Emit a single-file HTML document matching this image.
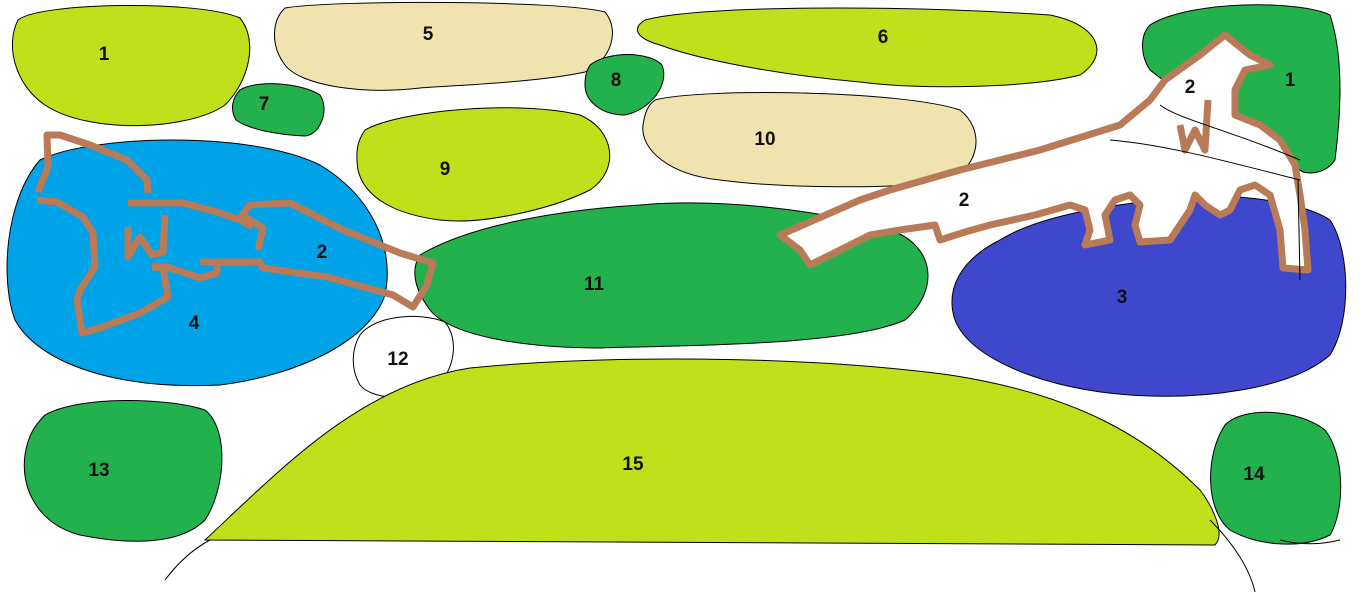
<!DOCTYPE html>
<html><head><style>html,body{margin:0;padding:0;background:#fff;width:1360px;height:592px;overflow:hidden}
text{font-family:"Liberation Sans",sans-serif;font-weight:bold;font-size:19px;fill:#111;text-anchor:middle}</style></head>
<body>
<svg width="1360" height="592" viewBox="0 0 1360 592" xmlns="http://www.w3.org/2000/svg">
<g stroke="#000" stroke-width="1">
<path d="M18,20 C40,2 200,0 240,18 C258,40 250,80 225,105 C190,130 90,135 45,105 C15,85 5,45 18,20Z" fill="#c0e01c"/>
<path d="M285,8 C330,0 560,0 605,12 C620,30 612,60 585,72 C540,82 460,85 420,88 C360,95 300,85 285,65 C270,45 272,20 285,8Z" fill="#efe4b0"/>
<path d="M645,20 C700,5 900,5 1050,15 C1100,25 1110,55 1080,75 C1030,88 920,90 860,82 C780,75 700,60 660,45 C635,38 632,28 645,20Z" fill="#c0e01c"/>
<path d="M1150,25 C1190,0 1300,0 1330,15 C1345,60 1340,120 1335,160 C1325,175 1305,175 1300,170 L1240,140 L1150,70 C1140,55 1140,35 1150,25Z" fill="#22b14c"/>
<path d="M240,90 C255,80 300,82 320,95 C330,110 320,135 305,136 C280,135 250,130 236,120 C230,110 232,98 240,90Z" fill="#22b14c"/>
<path d="M590,65 C610,50 650,52 662,65 C670,85 650,110 625,115 C600,115 585,100 585,85 C585,75 587,70 590,65Z" fill="#22b14c"/>
<path d="M365,130 C400,110 520,100 580,115 C615,130 620,170 590,190 C550,210 480,225 440,220 C400,215 365,200 358,170 C355,150 358,140 365,130Z" fill="#c0e01c"/>
<path d="M655,100 C700,88 900,90 960,110 C985,130 980,165 950,180 C900,190 780,188 720,180 C670,175 640,150 643,125 C645,112 648,105 655,100Z" fill="#efe4b0"/>
<path d="M40,160 C90,135 250,130 320,165 C370,195 395,245 385,295 C370,340 300,375 220,385 C120,390 40,365 15,320 C0,280 5,200 40,160Z" fill="#00a2e8"/>
<path d="M420,255 C470,225 560,210 640,205 C720,198 820,210 890,230 C935,245 940,290 905,320 C850,345 700,345 600,348 C520,348 450,335 430,310 C415,290 410,270 420,255Z" fill="#22b14c"/>
<path d="M1000,240 C1040,215 1110,205 1160,200 C1220,190 1300,200 1330,220 C1350,250 1352,320 1330,355 C1290,390 1200,400 1130,395 C1050,390 970,360 955,320 C945,290 960,260 1000,240Z" fill="#3f48cc"/>
<path d="M360,335 C375,315 420,312 445,322 C460,340 455,375 430,392 C405,402 370,398 360,385 C350,368 352,348 360,335Z" fill="#fff"/>
<path d="M45,415 C80,395 170,398 205,410 C230,430 225,490 205,520 C180,545 130,545 80,535 C40,525 20,490 25,455 C28,435 35,425 45,415Z" fill="#22b14c"/>
<path d="M1225,425 C1245,405 1300,410 1325,430 C1345,455 1345,510 1330,535 C1300,550 1255,545 1230,530 C1205,510 1205,455 1225,425Z" fill="#22b14c"/>
<path d="M205,540 C280,470 360,385 470,368 C600,355 800,355 950,375 C1080,395 1150,440 1200,490 C1215,510 1225,535 1215,545 L205,540Z" fill="#c0e01c"/>
</g>
<g fill="none" stroke="#000" stroke-width="1">
<path d="M165,580 C180,560 195,548 210,540"/>
<path d="M1210,520 C1235,545 1250,570 1255,592"/>
<path d="M1280,540 C1300,545 1320,545 1340,540"/>
<path d="M820,215 C900,185 1050,150 1150,145 C1200,150 1260,165 1300,175"/>
</g>
<g fill="#fff" stroke="#b97a57" stroke-width="7" stroke-linejoin="round">
<path d="M780,235 L860,200 L890,190 L960,170 L1040,150 L1120,125 L1150,100 L1165,80 L1200,55 L1225,35 L1250,55 L1270,65 L1245,70 L1235,90 L1235,115 L1260,125 L1280,140 L1295,165 L1300,195 L1305,230 L1308,270 L1283,268 L1280,230 L1270,195 L1255,185 L1240,190 L1230,210 L1220,215 L1205,205 L1195,195 L1190,210 L1180,225 L1170,240 L1140,242 L1135,225 L1140,205 L1130,195 L1115,200 L1105,215 L1110,240 L1085,245 L1090,230 L1085,210 L1070,205 L1035,215 L990,225 L965,232 L940,240 L935,225 L900,230 L870,235 L840,250 L810,265 L800,250 L780,235Z"/>
</g>
<g fill="none" stroke="#b97a57" stroke-width="7" stroke-linejoin="round" stroke-linecap="butt">
<path d="M38,192 L48,167 L47,135 L60,135 L90,145 L127,160 L147,180 L148,193"/>
<path d="M37,200 L57,202 L83,217 L93,233 L95,267 L80,290 L77,300 L82,333 L100,328 L140,313 L168,297 L163,268 L152,267"/>
<path d="M152,266 L167,267 L200,278 L217,273 L217,262 L203,262 L260,262 L263,268 L327,277 L393,295 L413,307 L427,285 L433,263 L400,253 L343,230 L290,203 L250,205 L242,215 L263,228 L258,250"/>
<path d="M128,203 L183,203 L217,212 L240,220 L253,227"/>
<path d="M128,227 L128,257 L140,237 L152,255 L163,252 L165,215"/>
<path d="M1180,125 L1185,150 L1195,130 L1205,150 L1208,100"/>
</g>
<g fill="none" stroke="#000" stroke-width="1">
<path d="M1160,105 C1180,120 1230,130 1300,160"/>
<path d="M1110,140 C1170,145 1240,165 1300,180"/>
<path d="M1298,180 L1300,280"/>
</g>
<text x="104" y="60">1</text>
<text x="428" y="40">5</text>
<text x="883" y="43">6</text>
<text x="1290" y="86">1</text>
<text x="1190" y="93">2</text>
<text x="264" y="110">7</text>
<text x="616" y="86">8</text>
<text x="445" y="175">9</text>
<text x="765" y="145">10</text>
<text x="964" y="206">2</text>
<text x="322" y="258">2</text>
<text x="594" y="290">11</text>
<text x="194" y="329">4</text>
<text x="1122" y="303">3</text>
<text x="398" y="365">12</text>
<text x="99" y="476">13</text>
<text x="1254" y="480">14</text>
<text x="633" y="470">15</text>
</svg>
</body></html>
